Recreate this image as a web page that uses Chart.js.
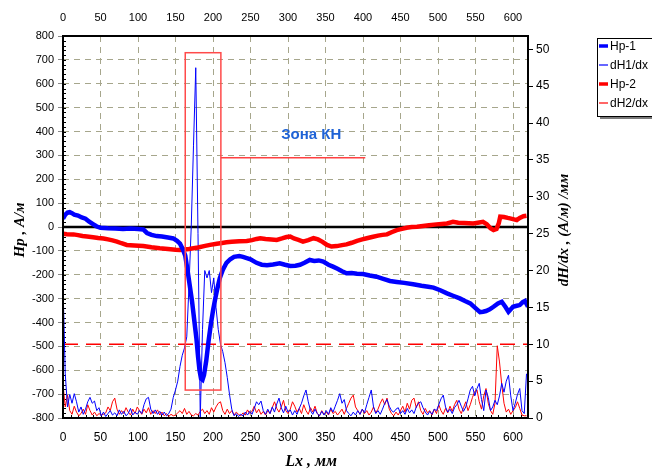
<!DOCTYPE html>
<html><head><meta charset="utf-8">
<script src="https://cdn.jsdelivr.net/npm/chart.js@4/dist/chart.umd.min.js"></script>
<style>html,body{margin:0;padding:0;background:#fff}#wrap{width:652px;height:472px;position:relative;background:#fff}</style>
</head><body><div id="wrap"><canvas id="c" width="652" height="472"></canvas></div>
<script>
// ---------- DATA ----------
const xTicks = [0,50,100,150,200,250,300,350,400,450,500,550,600];
const leftTicks = [-800,-700,-600,-500,-400,-300,-200,-100,0,100,200,300,400,500,600,700,800];
const rightTicks = [0,5,10,15,20,25,30,35,40,45,50];
const seriesNames = ['Hp-1','dH1/dx','Hp-2','dH2/dx'];

// Hp-1 (A/m) vs Lx (mm)
const hp1X = [0,3,6,9,12,15,20,25,30,35,40,45,50,60,70,80,90,100,107,112,118,125,132,140,147,152,156,160,163,166,169,172,175,178,180,182,184,186,188,191,194,197,200,203,206,209,213,218,223,228,235,240,245,250,258,265,272,280,289,296,303,310,316,322,329,335,341,347,354,360,366,372,378,385,392,400,409,418,427,436,445,455,467,478,487,494,503,512,520,529,536,543,550,556,560,564,569,574,580,585,590,594,597,600,605,609,613,616,620];
const hp1Y = [35,52,60,62,58,52,48,40,35,22,12,2,-3,-5,-6,-8,-6,-8,-10,-25,-33,-38,-40,-44,-48,-58,-70,-95,-120,-180,-245,-310,-390,-470,-540,-600,-635,-640,-620,-560,-480,-410,-350,-300,-255,-215,-180,-150,-135,-125,-122,-125,-130,-135,-150,-158,-160,-157,-152,-158,-163,-162,-158,-150,-138,-142,-140,-145,-158,-166,-175,-185,-194,-193,-196,-197,-203,-208,-217,-226,-230,-234,-240,-246,-250,-254,-265,-278,-288,-299,-310,-320,-340,-357,-355,-352,-345,-334,-320,-313,-335,-355,-345,-334,-330,-327,-315,-310,-334];

// Hp-2 (A/m)
const hp2X = [0,5,14,20,26,32,40,47,54,60,66,72,78,85,95,107,118,129,140,150,156,162,168,174,180,188,196,205,212,218,225,235,245,252,258,263,270,278,285,292,298,303,308,314,320,327,334,340,346,352,358,365,372,378,385,392,399,405,412,420,426,432,438,445,452,458,465,472,480,488,498,505,512,520,527,535,541,547,553,560,565,570,574,578,581,583,588,593,596,600,605,609,614,618];
const hp2Y = [-28,-30,-31,-34,-38,-40,-43,-46,-48,-52,-56,-61,-68,-75,-77,-80,-85,-89,-92,-95,-96,-94,-92,-89,-86,-80,-75,-70,-67,-64,-62,-60,-59,-55,-50,-47,-50,-52,-54,-48,-42,-40,-48,-54,-61,-55,-47,-52,-62,-75,-82,-80,-76,-73,-66,-58,-52,-47,-42,-36,-33,-31,-22,-13,-8,-3,0,1,4,7,11,13,15,22,18,17,16,15,18,22,12,-5,-13,-8,15,43,42,38,36,33,29,38,45,47];

// derivative sampling step (mm)
const dStep = 3;
// dH1/dx ((A/m)/mm)
const dH1 = [18,6,1.5,3.2,2.0,3.3,2.2,0.8,1.5,0.5,1.2,2.2,2.8,2.0,2.3,1.0,1.4,0.3,0.8,0.2,
0.6,1.0,0.4,0.7,0.3,1.1,0.5,0.9,0.3,0.6,1.3,0.4,0.8,0.5,1.0,0.6,1.8,2.6,2.8,1.2,
0.6,1.1,0.5,0.9,0.4,0.8,0.3,0.6,1.2,2.8,3.8,5.0,7.0,8.5,9.5,11,18,26,37,47.5,
25,0,12,20,19,20,17,19,15,12,10,9,7.5,5.5,3.2,1.2,0.3,0.6,0.2,0.5,
0.3,0.8,0.4,0.9,0.5,1.3,2.2,1.8,2.3,1.0,0.5,1.2,0.6,1.5,0.8,1.9,2.7,1.4,0.7,1.6,
0.8,1.1,0.4,1.0,0.5,1.3,2.0,3.0,3.8,2.2,1.0,0.5,1.2,0.6,0.3,0.9,0.4,1.0,0.5,1.4,
0.8,1.6,2.4,3.3,2.0,2.5,1.0,0.6,0.3,0.8,0.4,1.0,0.5,1.2,0.7,1.8,2.8,3.8,1.5,0.6,
1.0,0.5,1.2,2.0,2.5,1.6,1.0,0.8,1.2,1.4,0.6,1.0,0.5,1.3,0.7,1.1,0.6,1.5,2.0,2.2,
1.4,0.8,0.4,0.9,0.5,1.2,1.0,1.8,2.6,3.1,1.5,0.8,1.2,0.6,1.4,1.8,2.4,1.6,0.9,1.5,
2.6,3.8,4.3,3.0,4.0,4.7,2.5,1.0,3.8,2.8,1.0,1.5,2.4,1.8,3.0,4.7,3.5,5.0,5.8,3.0,
1.0,2.0,3.2,4.0,1.0,0.6,6.0];
// dH2/dx ((A/m)/mm)
const dH2 = [4.5,1.5,3.1,1.0,0.5,1.6,0.8,0.3,0.6,1.2,0.5,1.8,1.0,0.4,0.8,0.3,0.6,0.4,0.5,0.7,
1.5,1.0,2.2,2.7,1.2,0.5,1.0,0.6,1.4,0.8,0.4,1.2,0.6,1.5,1.0,0.5,1.2,0.7,1.4,0.5,
1.0,0.6,1.1,0.4,0.8,0.3,0.6,0.2,0.5,0.3,0.4,0.7,1.0,0.6,1.3,0.5,0.9,0.4,0.3,0.6,
0.4,0.9,1.2,0.6,1.0,0.5,1.4,0.8,1.5,2.0,2.2,1.0,0.5,1.2,0.6,1.0,0.4,0.8,0.5,0.3,
0.7,0.4,1.1,0.6,0.9,1.6,0.7,1.2,0.5,0.9,0.4,1.0,0.6,1.4,2.2,1.3,0.8,1.5,2.4,1.0,
0.6,1.2,2.2,1.6,0.8,1.3,0.6,1.8,1.0,0.5,1.4,0.8,1.6,0.6,0.3,1.0,0.5,0.8,0.4,1.2,
0.6,0.9,0.4,0.8,1.2,0.5,1.3,2.0,2.7,3.1,1.5,1.0,0.5,1.2,0.6,1.0,0.4,0.8,1.5,0.7,
1.2,2.0,2.6,1.8,2.7,1.2,0.6,0.3,0.8,0.4,1.0,1.6,0.8,2.0,1.2,2.4,2.7,1.4,2.2,1.0,
0.5,1.3,0.7,1.0,0.4,1.2,0.6,1.8,1.0,0.5,1.3,0.7,1.6,0.9,1.8,2.4,1.2,0.6,1.4,2.2,
1.0,1.8,2.8,3.6,3.8,2.2,1.2,3.0,4.0,2.0,1.0,0.5,2.0,9.8,7.6,4.5,2.0,0.8,1.2,0.5,
1.0,1.4,2.2,1.3,0.4,0.3,0.3];

// threshold level for dH/dx
const dThreshold = 10;
const thresholdX = [0, 620];

// annotation "Зона КН"
const zoneLabel = 'Зона КН';
const zoneX = [163, 210.5];     // mm
const zoneY = [-683, 730];      // A/m
const zoneLeaderX = [210.5, 403];
const zoneLeaderY = 293;
const zoneTextPos = [331, 385];

const xMin = 0, xMax = 620, lMin = -800, lMax = 800, rMin = 0, rMax = 51.8;

// ---------- BUILD ----------
const pts = (xs, ys) => ys.map((v,i)=>({x:xs[i], y:v}));
const dPts = arr => arr.map((v,i)=>({x:i*dStep, y:v}));

const BLUE = '#0000ff', RED = '#ff0000';
const GRID = '#a6a68c';
Chart.defaults.font.family = "'Liberation Sans', Arial, sans-serif";
Chart.defaults.font.size = 12;
Chart.defaults.color = '#000';

const setTicks = arr => scale => { scale.ticks = arr.map(v=>({value:v})); };

function line(ctx,x1,y1,x2,y2){ctx.beginPath();ctx.moveTo(x1,y1);ctx.lineTo(x2,y2);ctx.stroke();}

const deco = {
  id:'deco',
  beforeDatasetsDraw(chart){
    const {ctx, chartArea:a, scales:{x,y}} = chart;
    ctx.save();
    ctx.setLineDash([]);
    ctx.strokeStyle='#000'; ctx.lineWidth=1;
    for(let v=lMin; v<=lMax; v+=20){ const py=Math.round(y.getPixelForValue(v))+0.5; line(ctx,a.left,py,a.left+3,py); }
    for(let v=xMin; v<=xMax; v+=10){ const px=Math.round(x.getPixelForValue(v))+0.5; line(ctx,px,a.bottom,px,a.bottom-3); }
    const y0 = y.getPixelForValue(0);
    ctx.lineWidth=2.5; line(ctx,a.left,y0,a.right,y0);
    ctx.restore();
  },
  afterDatasetsDraw(chart){
    const {ctx, scales:{x,y}} = chart;
    ctx.save();
    ctx.setLineDash([]);
    ctx.globalAlpha = 1;
    ctx.strokeStyle='#ff4a4a'; ctx.lineWidth=1.5;
    const x1=x.getPixelForValue(zoneX[0]), x2=x.getPixelForValue(zoneX[1]);
    const y1=y.getPixelForValue(zoneY[1]), y2=y.getPixelForValue(zoneY[0]);
    ctx.strokeRect(x1,y1,x2-x1,y2-y1);
    const ly=Math.round(y.getPixelForValue(zoneLeaderY));
    ctx.fillStyle='#ff4040';
    const lx1=x.getPixelForValue(zoneLeaderX[0]), lx2=x.getPixelForValue(zoneLeaderX[1]);
    ctx.fillRect(lx1, ly, lx2-lx1, 1.5);
    ctx.fillStyle='#1f63d6';
    ctx.font="bold 15px 'Liberation Sans', Arial, sans-serif";
    ctx.textAlign='center'; ctx.textBaseline='middle';
    ctx.fillText(zoneLabel, x.getPixelForValue(zoneTextPos[0]), y.getPixelForValue(zoneTextPos[1]));
    ctx.restore();
  },
  afterDraw(chart){
    const {ctx, chartArea:a} = chart;
    ctx.save();
    ctx.setLineDash([]);
    ctx.strokeStyle='#000'; ctx.lineWidth=2;
    ctx.strokeRect(a.left,a.top,a.right-a.left,a.bottom-a.top);
    // titles
    ctx.fillStyle='#000';
    ctx.font="italic bold 15px 'Liberation Serif', 'Times New Roman', serif";
    ctx.textAlign='center'; ctx.textBaseline='middle';
    ctx.save(); ctx.translate(20,230); ctx.rotate(-Math.PI/2); ctx.fillText('Hp , A/м',0,0); ctx.restore();
    ctx.save(); ctx.translate(564,230); ctx.rotate(-Math.PI/2); ctx.fillText('dH/dx , (A/м) /мм',0,0); ctx.restore();
    ctx.font="italic bold 16px 'Liberation Serif', 'Times New Roman', serif";
    ctx.fillText('Lx , мм',311,462);
    // legend
    const lx=597, ly=38, lw=70, lh=78;
    ctx.fillStyle='#7a7a7a'; ctx.fillRect(lx+3,ly+3,lw,lh);
    ctx.fillStyle='#fff'; ctx.fillRect(lx,ly,lw,lh);
    ctx.lineWidth=1; ctx.strokeStyle='#000'; ctx.strokeRect(lx+0.5,ly+0.5,lw,lh);
    const cols=[BLUE,BLUE,RED,RED], wid=[3.5,1.2,3.5,1.2];
    ctx.font="12px 'Liberation Sans', Arial, sans-serif"; ctx.textAlign='left';
    seriesNames.forEach((n,i)=>{
      const yy = 46 + i*19;
      ctx.strokeStyle=cols[i]; ctx.lineWidth=wid[i]; line(ctx,lx+2,yy,lx+11,yy);
      ctx.fillStyle='#000'; ctx.fillText(n,lx+13,yy+1);
    });
    ctx.restore();
  }
};

new Chart(document.getElementById('c'), {
  type:'line',
  data:{ datasets:[
    {label:seriesNames[0], data:pts(hp1X,hp1Y), yAxisID:'y', borderColor:BLUE, borderWidth:4.5, pointRadius:0, tension:0},
    {label:seriesNames[2], data:pts(hp2X,hp2Y), yAxisID:'y', borderColor:RED, borderWidth:4.5, pointRadius:0, tension:0},
    {label:seriesNames[1], data:dPts(dH1), yAxisID:'y1', borderColor:BLUE, borderWidth:1, pointRadius:0, tension:0},
    {label:seriesNames[3], data:dPts(dH2), yAxisID:'y1', borderColor:RED, borderWidth:1, pointRadius:0, tension:0},
    {label:'threshold', data:thresholdX.map(v=>({x:v,y:dThreshold})), yAxisID:'y1', borderColor:RED, borderWidth:1.5, borderDash:[15,8], pointRadius:0}
  ]},
  options:{
    responsive:false, animation:false, devicePixelRatio:1,
    layout:{padding:0},
    plugins:{legend:{display:false}, tooltip:{enabled:false}, title:{display:false}},
    scales:{
      x:{type:'linear', position:'bottom', min:xMin, max:xMax,
         afterBuildTicks:setTicks(xTicks), afterFit:s=>{s.height=54;},
         grid:{color:GRID, drawTicks:false}, border:{display:false, dash:[6,5]},
         ticks:{padding:12, maxRotation:0, autoSkip:false, font:{size:12}}},
      x2:{type:'linear', position:'top', min:xMin, max:xMax,
         afterBuildTicks:setTicks(xTicks), afterFit:s=>{s.height=36;},
         grid:{display:false, drawTicks:false}, border:{display:false},
         ticks:{padding:11, maxRotation:0, autoSkip:false, font:{size:11}}},
      y:{type:'linear', position:'left', min:lMin, max:lMax,
         afterBuildTicks:setTicks(leftTicks), afterFit:s=>{s.width=63;},
         grid:{color:GRID, tickLength:5, tickColor:'#888'}, border:{display:false, dash:[6,5]},
         ticks:{padding:4, autoSkip:false, font:{size:11}}},
      y1:{type:'linear', position:'right', min:rMin, max:rMax,
         afterBuildTicks:setTicks(rightTicks), afterFit:s=>{s.width=124;},
         grid:{drawOnChartArea:false, tickLength:5, tickColor:'#000'}, border:{display:false},
         ticks:{padding:3, autoSkip:false, font:{size:12}}}
    }
  },
  plugins:[deco]
});
</script></body></html>
